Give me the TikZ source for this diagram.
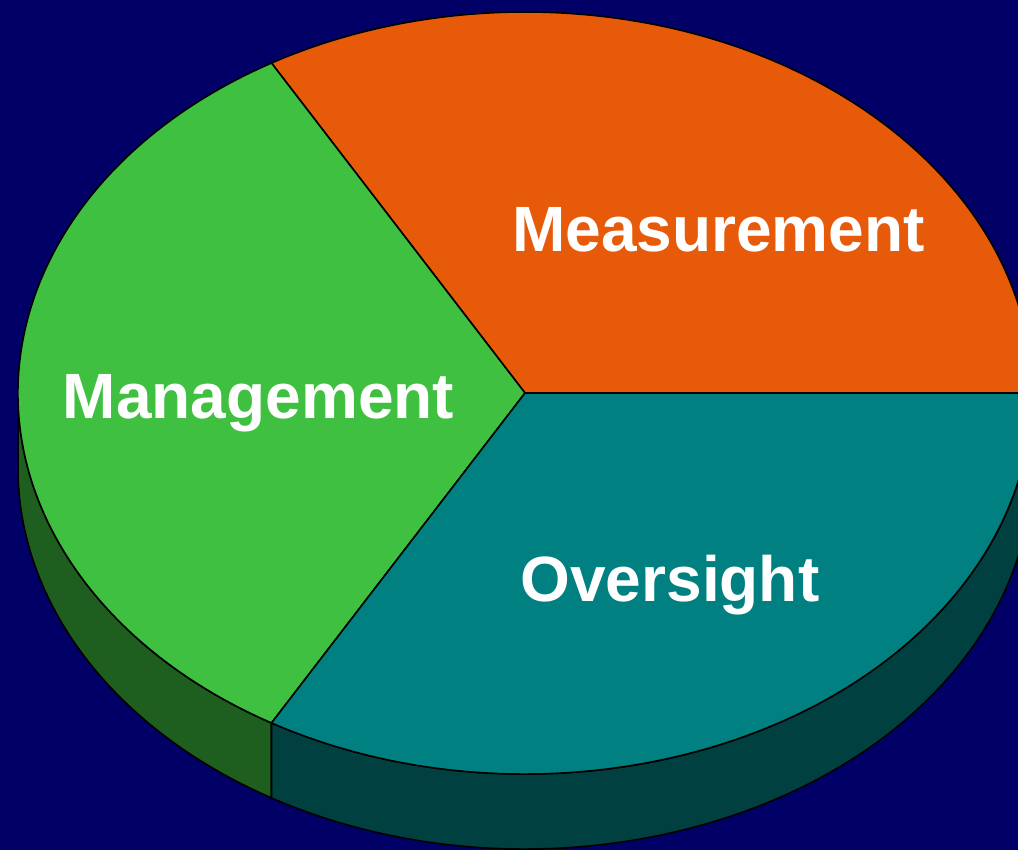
\documentclass[tikz,border=0pt]{standalone}
\usepackage{fontspec}
\setmainfont{Liberation Sans}
\definecolor{navy}{HTML}{000066}
\definecolor{measure}{HTML}{E65A0A}
\definecolor{manage}{HTML}{40C040}
\definecolor{manageside}{HTML}{1E5E1E}
\definecolor{oversee}{HTML}{008080}
\definecolor{overseeside}{HTML}{004040}
\tikzset{
  slice/.style={draw=black, line width=1.6pt, line join=round},
  label/.style={text=white, font=\fontsize{64}{70}\selectfont\bfseries, inner sep=0pt, anchor=base}
}
\begin{document}
\begin{tikzpicture}[x=1pt, y=1pt]
%
\fill[navy] (-525,-457) rectangle (493,393);
\useasboundingbox (-525,-457) rectangle (493,393);
%
\coordinate (o) at (0,0);
\coordinate (p0) at (0:507pt and 381pt);
\coordinate (p120) at (120:507pt and 381pt);
\coordinate (p180) at (180:507pt and 381pt);
\coordinate (p240) at (240:507pt and 381pt);
%
\draw[slice, fill=manageside] (p180) -- ++(0,-75)
   arc[start angle=180, end angle=240, x radius=507pt, y radius=381pt]
   -- (p240) arc[start angle=240, end angle=180, x radius=507pt, y radius=381pt] -- cycle;
\draw[slice, fill=overseeside] (p240) -- ++(0,-75)
   arc[start angle=240, end angle=360, x radius=507pt, y radius=381pt]
   -- (p0) arc[start angle=360, end angle=240, x radius=507pt, y radius=381pt] -- cycle;
%
\draw[slice, fill=measure] (o) -- (p0) arc[start angle=0, end angle=120, x radius=507pt, y radius=381pt] -- cycle;
\draw[slice, fill=manage] (o) -- (p120) arc[start angle=120, end angle=240, x radius=507pt, y radius=381pt] -- cycle;
\draw[slice, fill=oversee] (o) -- (p240) arc[start angle=240, end angle=360, x radius=507pt, y radius=381pt] -- cycle;
%
\node[label] at (193.5,141) (measurement) {Measurement};
\node[label] at (-266.5,-26) (management) {Management};
\node[label] at (145,-209) (oversight) {Oversight};
\end{tikzpicture}
\end{document}
